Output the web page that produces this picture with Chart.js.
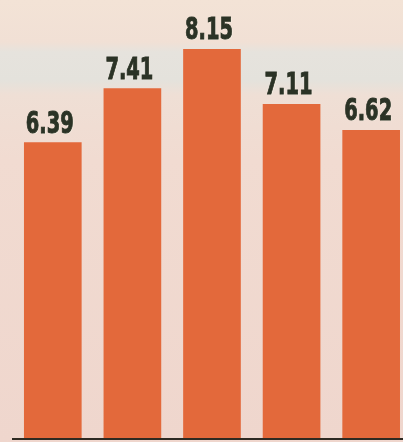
<!DOCTYPE html>
<html>
<head>
<meta charset="utf-8">
<script src="https://cdn.jsdelivr.net/npm/chart.js@4"></script>
<style>
html,body{margin:0;padding:0;overflow:hidden;}
body{width:403px;height:442px;
background:linear-gradient(to bottom,#f3e3d6 0px,#f1e0d5 42px,#e6e3dd 52px,#e4e2dc 80px,#efdfd5 95px,#f1dbd1 160px,#efd6cd 442px);}
#wrap{position:relative;width:403px;height:442px;}
</style>
</head>
<body>
<div id="wrap"><canvas id="c"></canvas></div>
<script>
const categories = ['1', '2', '3', '4', '5'];
const values = [6.39, 7.41, 8.15, 7.11, 6.62];
const valueLabels = ['6.39', '7.41', '8.15', '7.11', '6.62'];

const baseline = {
  id: 'baseline',
  afterDatasetsDraw(chart) {
    const {ctx, chartArea} = chart;
    ctx.save();
    ctx.strokeStyle = '#2e2a22';
    ctx.lineWidth = 2;
    ctx.beginPath();
    ctx.moveTo(12, chartArea.bottom);
    ctx.lineTo(403, chartArea.bottom);
    ctx.stroke();
    ctx.restore();
  }
};

const labelsPlugin = {
  id: 'valueLabels',
  afterDatasetsDraw(chart) {
    const {ctx} = chart;
    const meta = chart.getDatasetMeta(0);
    ctx.save();
    ctx.font = 'bold 30px "DejaVu Sans", sans-serif';
    ctx.textAlign = 'center';
    ctx.textBaseline = 'alphabetic';
    const sx = 48 / ctx.measureText('6.39').width;
    meta.data.forEach((bar, i) => {
      ctx.save();
      ctx.translate(bar.x - 3, bar.y - 10);
      ctx.scale(sx, 1);
      ctx.fillStyle = 'rgba(248,240,228,0.8)';
      ctx.fillText(valueLabels[i], 1.5, 1);
      ctx.fillStyle = '#2b3326';
      ctx.strokeStyle = '#2b3326';
      ctx.lineWidth = 1;
      ctx.fillText(valueLabels[i], 0, 0);
      ctx.strokeText(valueLabels[i], 0, 0);
      ctx.restore();
    });
    ctx.restore();
  }
};

new Chart(document.getElementById('c'), {
  type: 'bar',
  data: {
    datasets: [{
      label: 'values',
      data: values.map((v, i) => ({x: i, y: v})),
      backgroundColor: '#e3693b',
      borderWidth: 0,
      barThickness: 57
    }]
  },
  options: {
    responsive: true,
    maintainAspectRatio: false,
    animation: false,
    layout: {padding: {left: 13, right: 0, top: 0, bottom: 3}},
    plugins: {legend: {display: false}, tooltip: {enabled: false}},
    scales: {
      x: {type: 'linear', min: -0.5, max: 4.4, offset: false, display: false},
      y: {min: 0.8, max: 9.08, display: false}
    }
  },
  plugins: [baseline, labelsPlugin]
});
</script>
</body>
</html>
